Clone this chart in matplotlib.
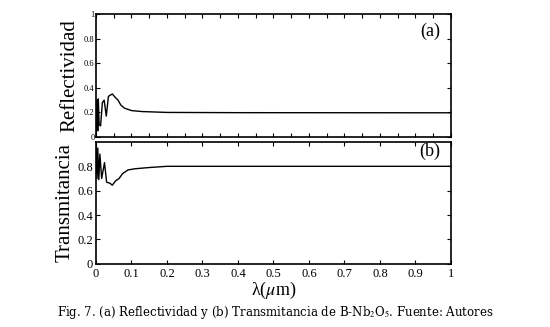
import matplotlib.pyplot as plt
import numpy as np

plt.rcParams['font.family'] = ['Liberation Serif', 'DejaVu Serif']
plt.rcParams['mathtext.fontset'] = 'stix'

# valores
lam_r = [0.0, 0.003, 0.005, 0.0065, 0.009, 0.013, 0.018, 0.023, 0.029, 0.035,
         0.040, 0.046, 0.055, 0.062, 0.070, 0.080, 0.100, 0.130, 0.200, 0.400, 1.0]
refl = [0.0, 0.30, 0.05, 0.31, 0.10, 0.09, 0.28, 0.30, 0.17, 0.33,
        0.34, 0.35, 0.32, 0.30, 0.26, 0.235, 0.215, 0.207, 0.200, 0.198, 0.197]

lam_t = [0.0, 0.003, 0.005, 0.008, 0.011, 0.016, 0.024, 0.030, 0.040, 0.046,
         0.055, 0.065, 0.075, 0.090, 0.110, 0.150, 0.200, 0.400, 1.0]
trans = [1.0, 0.70, 0.95, 0.69, 0.90, 0.70, 0.83, 0.67, 0.66, 0.645,
         0.68, 0.70, 0.74, 0.77, 0.78, 0.79, 0.80, 0.80, 0.80]

fig = plt.figure(figsize=(5.5, 3.27), dpi=100)
ax1 = fig.add_axes([0.1745, 0.581, 0.6455, 0.376])
ax2 = fig.add_axes([0.1745, 0.193, 0.6455, 0.373])

ax1.plot(lam_r, refl, color='black', lw=1)
ax2.plot(lam_t, trans, color='black', lw=1)

for ax in (ax1, ax2):
    ax.set_xlim(0, 1)
    ax.set_ylim(0, 1)
    ax.tick_params(direction='in', top=True, right=True, length=3, width=0.8)
    for s in ax.spines.values():
        s.set_linewidth(1.2)

ax1.set_xticks(np.arange(0, 1.01, 0.05))
ax1.set_xticklabels([])
ax1.set_yticks([0, 0.2, 0.4, 0.6, 0.8, 1])
ax1.set_yticklabels(['0', '0.2', '0.4', '0.6', '0.8', '1'])
ax1.tick_params(axis='y', labelsize=6, pad=1)
ax1.set_ylabel('Reflectividad', fontsize=15, labelpad=3)
ax1.text(0.97, 0.86, '(a)', transform=ax1.transAxes, ha='right', va='center', fontsize=13)

ax2.set_xticks(np.arange(0, 1.01, 0.1))
ax2.set_xticklabels(['0', '0.1', '0.2', '0.3', '0.4', '0.5', '0.6', '0.7', '0.8', '0.9', '1'])
ax2.set_yticks([0, 0.2, 0.4, 0.6, 0.8])
ax2.set_yticklabels(['0', '0.2', '0.4', '0.6', '0.8'])
ax2.tick_params(axis='y', labelsize=9, pad=2)
ax2.tick_params(axis='x', labelsize=9, pad=3)
ax2.set_ylabel('Transmitancia', fontsize=15, labelpad=2)
ax2.set_xlabel(r'λ($\mu$m)', fontsize=13, labelpad=0)
ax2.text(0.97, 0.92, '(b)', transform=ax2.transAxes, ha='right', va='center', fontsize=13)

fig.text(0.5, 0.043, r'Fig. 7. (a) Reflectividad y (b) Transmitancia de B-Nb$_2$O$_5$. Fuente: Autores',
         ha='center', va='center', fontsize=8.5, family=['DejaVu Serif'])

fig.savefig('out.png', dpi=100)
